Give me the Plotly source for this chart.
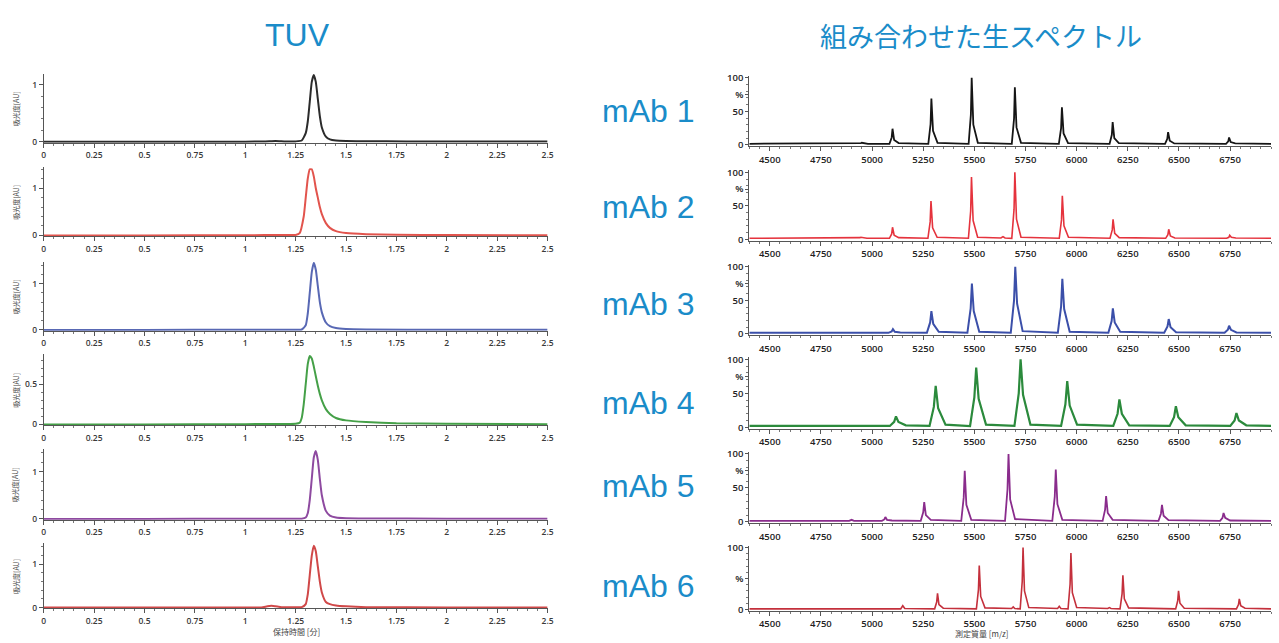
import plotly.graph_objects as go

# ---------------- text ----------------
panel_labels = ["mAb 1", "mAb 2", "mAb 3", "mAb 4", "mAb 5", "mAb 6"]
left_title = "TUV"
right_title = "組み合わせた生スペクトル"
left_xlabel = "保持時間 [分]"
right_xlabel = "測定質量 [m/z]"
left_ylabel = "吸光度[AU]"

left_xtick_vals = [0, 0.25, 0.5, 0.75, 1, 1.25, 1.5, 1.75, 2, 2.25, 2.5]
left_xtick_text = ["0", "0.25", "0.5", "0.75", "1", "1.25", "1.5", "1.75", "2", "2.25", "2.5"]
right_xtick_vals = [4500, 4750, 5000, 5250, 5500, 5750, 6000, 6250, 6500, 6750]
right_xtick_text = ["4500", "4750", "5000", "5250", "5500", "5750", "6000", "6250", "6500", "6750"]

# ---------------- TUV chromatograms (time [min], absorbance [AU]) ----------------
tuv1_t = [0, 0.5, 1.0, 1.10, 1.15, 1.20, 1.25, 1.28, 1.30, 1.31, 1.32, 1.33, 1.34, 1.35, 1.36, 1.37, 1.38, 1.40, 1.42, 1.45, 1.50, 1.60, 1.80, 2.10, 2.50]
tuv1_y = [0, 0, 0, 0.005, 0.012, 0.005, 0.005, 0.02, 0.15, 0.35, 0.70, 1.05, 1.17, 1.05, 0.75, 0.45, 0.25, 0.09, 0.04, 0.02, 0.012, 0.008, 0.005, 0.003, 0.002]

tuv2_t = [0, 0.5, 1.0, 1.20, 1.25, 1.27, 1.29, 1.30, 1.31, 1.32, 1.33, 1.34, 1.35, 1.36, 1.37, 1.38, 1.40, 1.42, 1.45, 1.50, 1.60, 1.75, 2.0, 2.5]
tuv2_y = [0, 0, 0.005, 0.008, 0.01, 0.05, 0.40, 0.80, 1.20, 1.40, 1.40, 1.25, 1.00, 0.80, 0.60, 0.45, 0.26, 0.16, 0.09, 0.05, 0.025, 0.012, 0.006, 0.003]

tuv3_t = [0, 0.5, 1.0, 1.20, 1.28, 1.30, 1.31, 1.32, 1.33, 1.34, 1.35, 1.36, 1.37, 1.38, 1.40, 1.42, 1.45, 1.50, 1.60, 2.0, 2.5]
tuv3_y = [0, 0, 0.003, 0.005, 0.01, 0.10, 0.35, 0.80, 1.25, 1.45, 1.30, 0.95, 0.60, 0.38, 0.16, 0.08, 0.04, 0.02, 0.01, 0.004, 0.002]

tuv4_t = [0, 0.5, 1.0, 1.20, 1.25, 1.27, 1.28, 1.29, 1.30, 1.31, 1.32, 1.33, 1.34, 1.35, 1.36, 1.37, 1.38, 1.40, 1.42, 1.45, 1.50, 1.60, 1.75, 2.0, 2.5]
tuv4_y = [0, 0, 0.003, 0.005, 0.008, 0.02, 0.08, 0.25, 0.50, 0.75, 0.85, 0.82, 0.72, 0.60, 0.48, 0.38, 0.30, 0.19, 0.13, 0.08, 0.05, 0.03, 0.015, 0.008, 0.003]

tuv5_t = [0, 0.5, 1.0, 1.20, 1.28, 1.30, 1.31, 1.32, 1.33, 1.34, 1.35, 1.36, 1.37, 1.38, 1.40, 1.42, 1.45, 1.50, 1.60, 2.0, 2.5]
tuv5_y = [0, 0, 0.003, 0.005, 0.005, 0.03, 0.12, 0.40, 0.85, 1.30, 1.44, 1.25, 0.85, 0.50, 0.17, 0.07, 0.03, 0.015, 0.01, 0.004, 0.002]

tuv6_t = [0, 0.5, 1.0, 1.08, 1.11, 1.13, 1.15, 1.18, 1.25, 1.28, 1.30, 1.31, 1.32, 1.33, 1.34, 1.35, 1.36, 1.37, 1.38, 1.40, 1.42, 1.45, 1.50, 1.60, 2.0, 2.5]
tuv6_y = [0, 0, 0.003, 0.005, 0.03, 0.04, 0.03, 0.01, 0.008, 0.01, 0.08, 0.30, 0.75, 1.20, 1.43, 1.30, 0.95, 0.60, 0.35, 0.13, 0.08, 0.05, 0.03, 0.01, 0.004, 0.002]

# ---------------- raw combined spectra (m/z, relative %) ----------------
ms1_x = [4400, 4935, 4946, 4950, 4958, 4980,
         5085, 5096, 5100, 5108, 5130,
         5275, 5286, 5290, 5298, 5320,
         5472, 5483, 5487, 5495, 5517,
         5683, 5694, 5698, 5706, 5728,
         5913, 5924, 5928, 5936, 5958,
         6161, 6172, 6176, 6184, 6206,
         6432, 6443, 6447, 6455, 6477,
         6730, 6741, 6745, 6753, 6775,
         6950]
ms1_y = [1.5, 1.5, 2.5, 3, 2.5, 1.5,
         1.5, 11, 24, 7, 2.5,
         1.5, 31, 69, 21, 3,
         1.5, 45, 100, 30, 3,
         1.5, 39, 86, 26, 3,
         1.5, 25, 56, 17, 2.5,
         1.5, 15, 34, 10, 2.5,
         1.5, 9, 19, 6, 2,
         1.5, 5, 11, 4, 2,
         1.5]

ms2_x = [4400, 4930, 4941, 4945, 4953, 4975,
         5085, 5096, 5100, 5108, 5130,
         5273, 5284, 5288, 5296, 5318,
         5471, 5482, 5486, 5494, 5516,
         5630, 5640, 5650,
         5683, 5694, 5698, 5706, 5728,
         5915, 5926, 5930, 5938, 5960,
         6163, 6174, 6178, 6186, 6208,
         6435, 6446, 6450, 6458, 6480,
         6733, 6744, 6748, 6756, 6778,
         6950]
ms2_y = [1.5, 1.5, 2.5, 3, 2.5, 1.5,
         1.5, 8, 18, 6, 2.5,
         1.5, 26, 57, 17, 3,
         1.5, 42, 93, 28, 3,
         2, 4, 2,
         1.5, 45, 100, 30, 3,
         1.5, 29, 65, 20, 3,
         1.5, 14, 30, 9, 2.5,
         1.5, 7, 15, 5, 2,
         1.5, 3, 6, 3, 2,
         1.5]

ms3_x = [4400, 4935, 4950, 4965,
         5080, 5096, 5102, 5111, 5138,
         5268, 5284, 5290, 5299, 5326,
         5466, 5482, 5488, 5497, 5524,
         5678, 5694, 5700, 5709, 5736,
         5908, 5924, 5930, 5939, 5966,
         6155, 6171, 6177, 6186, 6213,
         6428, 6444, 6450, 6459, 6486,
         6723, 6739, 6745, 6754, 6781,
         6950]
ms3_y = [1.5, 1.5, 2.5, 1.5,
         1.5, 3.5, 7, 3, 2,
         1.5, 17, 34, 15, 3,
         1.5, 38, 75, 34, 3,
         1.5, 50, 100, 45, 4,
         1.5, 41, 82, 37, 3,
         1.5, 19, 38, 17, 3,
         1.5, 11, 22, 10, 2.5,
         1.5, 6, 12, 6, 2,
         1.5]

ms4_x = [4400, 4970, 4990, 5010,
         5087, 5108, 5117, 5129, 5165,
         5281, 5302, 5311, 5323, 5359,
         5479, 5500, 5509, 5521, 5557,
         5696, 5717, 5726, 5738, 5774,
         5924, 5945, 5954, 5966, 6002,
         6179, 6200, 6209, 6221, 6257,
         6455, 6476, 6485, 6497, 6533,
         6751, 6772, 6781, 6793, 6829,
         6950]
ms4_y = [2, 2, 3, 2,
         2, 8, 16, 8, 3,
         2, 30, 61, 28, 4,
         2, 44, 88, 42, 4,
         2, 50, 100, 48, 4,
         2, 34, 68, 32, 4,
         2, 20, 41, 20, 3,
         2, 15, 31, 15, 3,
         2, 10, 21, 10, 3,
         2]

ms5_x = [4400, 4888, 4900, 4912,
         5048, 5060, 5065, 5073, 5097,
         5238, 5250, 5255, 5263, 5287,
         5436, 5448, 5453, 5461, 5485,
         5650, 5662, 5667, 5675, 5699,
         5881, 5893, 5898, 5906, 5930,
         6127, 6139, 6144, 6152, 6176,
         6400, 6412, 6417, 6425, 6449,
         6701, 6713, 6718, 6726, 6750,
         6950]
ms5_y = [1.5, 1.5, 3, 1.5,
         1.5, 3.5, 7, 3, 2,
         1.5, 14, 29, 10, 3,
         1.5, 36, 75, 25, 3,
         1.5, 48, 100, 33, 4,
         1.5, 37, 77, 26, 3,
         1.5, 18, 38, 13, 3,
         1.5, 12, 25, 9, 2.5,
         1.5, 6, 13, 6, 2,
         1.5]

ms6_x = [4400, 5140, 5150, 5160,
         5306, 5316, 5320, 5327, 5348,
         5510, 5520, 5524, 5531, 5552,
         5682, 5690, 5698,
         5724, 5734, 5738, 5745, 5766,
         5907, 5915, 5923,
         5958, 5968, 5972, 5979, 6000,
         6152, 6160, 6168,
         6212, 6222, 6226, 6233, 6254,
         6484, 6494, 6498, 6505, 6526,
         6781, 6791, 6795, 6802, 6823,
         6950]
ms6_y = [1, 1, 6, 1.5,
         1, 12, 26, 8, 2,
         1, 32, 71, 21, 2.5,
         1.5, 4, 1.5,
         1, 45, 100, 30, 3,
         1.5, 5, 1.5,
         1, 41, 91, 27, 3,
         1.5, 3, 1.5,
         1, 25, 55, 17, 2.5,
         1, 14, 30, 10, 2,
         1, 8, 17, 6, 2,
         1]

tuv_series = [(tuv1_t, tuv1_y), (tuv2_t, tuv2_y), (tuv3_t, tuv3_y),
              (tuv4_t, tuv4_y), (tuv5_t, tuv5_y), (tuv6_t, tuv6_y)]
ms_series = [(ms1_x, ms1_y), (ms2_x, ms2_y), (ms3_x, ms3_y),
             (ms4_x, ms4_y), (ms5_x, ms5_y), (ms6_x, ms6_y)]

# ---------------- styling / layout ----------------
tuv_colors = ["#2b2b2b", "#e2544d", "#5868b4", "#45a048", "#8e4aa0", "#d04848"]
ms_colors = ["#151515", "#e5333d", "#3b4fa9", "#2b8a3c", "#8a2c8c", "#c4303c"]
ms_widths = [1.8, 1.6, 2.0, 2.2, 1.8, 1.6]
blue_text = "#1a8cc9"

W, H = 1279, 643


def fx(p):
    return p / W


def fy(p):
    return 1 - p / H


left_x_dom = [fx(42), fx(549)]
right_x_dom = [fx(752), fx(1277)]
right_xrange = [4400, 6950]
# (bottom px, top px) of left plotting areas and their y ranges
left_pix = [(140, 70), (235, 165), (331, 261), (427, 355), (523, 451), (613, 547)]
left_yrange = [[-0.02, 1.19], [-0.02, 1.44], [-0.02, 1.47], [-0.012, 0.87], [-0.02, 1.48], [-0.02, 1.48]]
left_ytick_vals = [[0, 1], [0, 1], [0, 1], [0, 0.5], [0, 1], [0, 1]]
left_ytick_text = [["0", "1"], ["0", "1"], ["0", "1"], ["0", "0.5"], ["0", "1"], ["0", "1"]]
# (px of 100 %, px of 0 %) for right panels
right_pix = [(74, 142), (170, 238), (266, 334), (360, 429), (456, 525), (551, 614)]
label_y_px = [108, 205, 304, 404, 489, 590]

fig = go.Figure()
layout = {}
axis_line = "#555555"
tick_font_l = dict(family="Open Sans", size=8.5, color="#3a3a3a", weight=600)
tick_font_r = dict(family="Open Sans", size=9.5, color="#222222", weight=600)

for i in range(6):
    ln = 2 * i + 1
    rn = 2 * i + 2
    lx = "x" if ln == 1 else f"x{ln}"
    ly = "y" if ln == 1 else f"y{ln}"
    rx, ry = f"x{rn}", f"y{rn}"

    t, a = tuv_series[i]
    fig.add_trace(go.Scatter(x=t, y=a, mode="lines", xaxis=lx, yaxis=ly,
                             line=dict(color=tuv_colors[i], width=2, shape="spline", smoothing=0.5),
                             showlegend=False, hoverinfo="skip"))
    m, r = ms_series[i]
    fig.add_trace(go.Scatter(x=m, y=r, mode="lines", xaxis=rx, yaxis=ry,
                             line=dict(color=ms_colors[i], width=ms_widths[i]),
                             showlegend=False, hoverinfo="skip"))

    bot, top = left_pix[i]
    layout["xaxis" if ln == 1 else f"xaxis{ln}"] = dict(
        domain=left_x_dom, anchor=ly, range=[0, 2.5], showgrid=False, zeroline=False,
        showline=True, linecolor=axis_line, linewidth=1,
        ticks="outside", ticklen=4, tickcolor=axis_line,
        tickvals=left_xtick_vals, ticktext=left_xtick_text, tickfont=tick_font_l,
        minor=dict(dtick=0.05, tick0=0, ticks="outside", ticklen=2, tickcolor="#777777"),
    )
    layout["yaxis" if ln == 1 else f"yaxis{ln}"] = dict(
        domain=[fy(bot), fy(top)], anchor=lx, range=left_yrange[i], showgrid=False, zeroline=False,
        showline=True, linecolor=axis_line, linewidth=1,
        ticks="outside", ticklen=4, tickcolor=axis_line,
        tickvals=left_ytick_vals[i], ticktext=left_ytick_text[i], tickfont=tick_font_l,
        minor=dict(dtick=0.2 if i != 3 else 0.1, tick0=0, ticks="outside", ticklen=2, tickcolor="#777777"),
    )

    p100, p0 = right_pix[i]
    unit = (p0 - p100) / 100.0
    layout[f"xaxis{rn}"] = dict(
        domain=right_x_dom, anchor=ry, range=right_xrange, showgrid=False, zeroline=False,
        showline=True, linecolor=axis_line, linewidth=1,
        ticks="outside", ticklen=4, tickcolor=axis_line,
        tickvals=right_xtick_vals, ticktext=right_xtick_text, tickfont=tick_font_r,
        minor=dict(dtick=50, tick0=4500, ticks="outside", ticklen=2, tickcolor="#777777"),
    )
    if i < 5:
        yv, yt = [0, 50, 75, 100], ["0", "50", "%", "100"]
    else:
        yv, yt = [0, 50, 100], ["0", "%", "100"]
    layout[f"yaxis{rn}"] = dict(
        domain=[fy(p0 + 2 * unit), fy(p100 - 3 * unit)], anchor=rx, range=[-2, 103],
        showgrid=False, zeroline=False, showline=True, linecolor=axis_line, linewidth=1,
        ticks="outside", ticklen=3, tickcolor=axis_line,
        tickvals=yv, ticktext=yt, tickfont=tick_font_r,
        minor=dict(dtick=10, tick0=0, ticks="outside", ticklen=2, tickcolor="#777777"),
    )

annotations = []
annotations.append(dict(text=left_title, x=fx(297), y=fy(30), xref="paper", yref="paper",
                        showarrow=False, xanchor="center", yanchor="middle",
                        font=dict(family="Liberation Sans", size=32, color=blue_text)))
annotations.append(dict(text=right_title, x=fx(985), y=fy(31), xref="paper", yref="paper",
                        showarrow=False, xanchor="center", yanchor="middle",
                        font=dict(family="Noto Sans CJK JP", size=27, color=blue_text)))
for i in range(6):
    annotations.append(dict(text=panel_labels[i], x=fx(650), y=fy(label_y_px[i]), xref="paper", yref="paper",
                            showarrow=False, xanchor="center", yanchor="middle",
                            font=dict(family="Liberation Sans", size=32, color=blue_text)))
    bot, top = left_pix[i]
    annotations.append(dict(text=left_ylabel, x=fx(14), y=fy((bot + top) / 2), xref="paper", yref="paper",
                            showarrow=False, xanchor="center", yanchor="middle", textangle=-90,
                            font=dict(family="Noto Sans CJK JP", size=7, color="#444444")))
annotations.append(dict(text=left_xlabel, x=fx(296), y=fy(636), xref="paper", yref="paper",
                        showarrow=False, xanchor="center", yanchor="middle",
                        font=dict(family="Noto Sans CJK JP", size=8, color="#444444")))
annotations.append(dict(text=right_xlabel, x=fx(986), y=fy(638), xref="paper", yref="paper",
                        showarrow=False, xanchor="center", yanchor="middle",
                        font=dict(family="Noto Sans CJK JP", size=8, color="#444444")))

fig.update_layout(
    width=W, height=H, margin=dict(l=0, r=0, t=0, b=0),
    paper_bgcolor="white", plot_bgcolor="white",
    showlegend=False, annotations=annotations, **layout,
)

fig.write_html("out.html", config={"displayModeBar": False},
               post_script="document.body.style.margin='0';document.body.style.overflow='hidden';")
